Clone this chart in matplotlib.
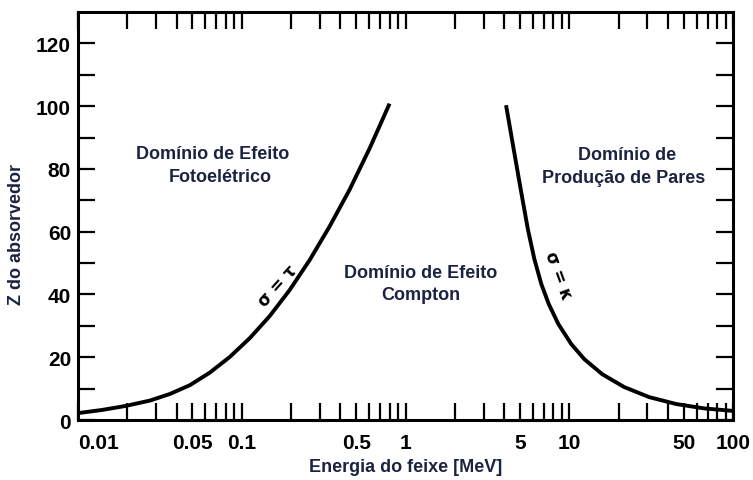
import matplotlib

matplotlib.use("Agg")
import matplotlib.pyplot as plt
from matplotlib.ticker import FixedLocator, NullFormatter

plt.rcParams["font.family"] = ["Liberation Sans", "DejaVu Sans"]

# curve sigma = tau (photoelectric / Compton boundary)
tau_energy = [0.01, 0.0140, 0.0196, 0.0275, 0.0364, 0.0482, 0.0638, 0.0845,
              0.112, 0.148, 0.196, 0.260, 0.344, 0.4555, 0.603, 0.799]
tau_z = [2.2, 3.2, 4.5, 6.2, 8.3, 11.1, 15.1, 20.1, 26.1, 33.1, 41.4, 51.0,
         61.7, 73.4, 86.5, 100.8]

# curve sigma = kappa (Compton / pair production boundary)
kappa_energy = [4.11, 4.575, 5.047, 5.585, 6.118, 6.75, 7.50, 8.57, 10.28,
                12.35, 15.89, 21.64, 30.74, 44.91, 66.56, 100.0]
kappa_z = [100.3, 86.3, 73.6, 60.8, 51.3, 43.3, 36.9, 30.6, 24.2, 19.4,
           14.6, 10.5, 7.3, 5.1, 3.7, 2.9]

x_major = [0.01, 0.05, 0.1, 0.5, 1, 5, 10, 50, 100]
x_labels = ["0.01", "0.05", "0.1", "0.5", "1", "5", "10", "50", "100"]
x_minor = [0.02, 0.03, 0.04, 0.06, 0.07, 0.08, 0.09,
           0.2, 0.3, 0.4, 0.6, 0.7, 0.8, 0.9,
           2, 3, 4, 6, 7, 8, 9,
           20, 30, 40, 60, 70, 80, 90]
y_major = [0, 20, 40, 60, 80, 100, 120]
y_minor = [10, 30, 50, 70, 90, 110]

TXT = "#1c2340"

fig = plt.figure(figsize=(7.53, 4.81), dpi=100)
ax = fig.add_axes([0.1036, 0.1247, 0.8699, 0.8483])

ax.plot(tau_energy, tau_z, color="black", linewidth=2.8,
        solid_capstyle="butt", solid_joinstyle="round")
ax.plot(kappa_energy, kappa_z, color="black", linewidth=2.8,
        solid_capstyle="butt", solid_joinstyle="round")

ax.set_xscale("log")
ax.set_xlim(0.01, 100)
ax.set_ylim(0, 130)

ax.xaxis.set_major_locator(FixedLocator(x_major))
ax.xaxis.set_minor_locator(FixedLocator(x_minor))
ax.xaxis.set_minor_formatter(NullFormatter())
ax.set_xticks(x_major)
ax.set_xticklabels(x_labels)
ax.set_yticks(y_major)
ax.set_yticks(y_minor, minor=True)

for s in ax.spines.values():
    s.set_linewidth(2.2)

ax.tick_params(which="both", direction="in", top=True, right=True,
               width=1.6, color="black")
ax.tick_params(which="major", length=12.5)
ax.tick_params(which="minor", length=12)
ax.tick_params(axis="x", which="major", pad=9, labelsize=15)
ax.tick_params(axis="y", which="major", pad=5, labelsize=15)
for lab in ax.get_xticklabels() + ax.get_yticklabels():
    lab.set_fontweight("bold")

ax.set_xlabel("Energia do feixe [MeV]", fontsize=13, fontweight="bold",
              color=TXT, labelpad=5)
ax.set_ylabel("Z do absorvedor", fontsize=13, fontweight="bold", color=TXT)
ax.yaxis.set_label_coords(-0.081, 0.456)

ax.text(0.0666, 85.0, "Domínio de Efeito", ha="center", va="center",
        fontsize=13, fontweight="bold", color=TXT)
ax.text(0.0734, 77.7, "Fotoelétrico", ha="center", va="center",
        fontsize=13, fontweight="bold", color=TXT)
ax.text(1.235, 47.1, "Domínio de Efeito", ha="center", va="center",
        fontsize=13, fontweight="bold", color=TXT)
ax.text(1.235, 40.1, "Compton", ha="center", va="center",
        fontsize=13, fontweight="bold", color=TXT)
ax.text(22.6, 84.7, "Domínio de", ha="center", va="center",
        fontsize=13, fontweight="bold", color=TXT)
ax.text(21.6, 77.4, "Produção de Pares", ha="center", va="center",
        fontsize=13, fontweight="bold", color=TXT)

ax.text(0.165, 42.8, "σ = τ", ha="center", va="center", rotation=48,
        fontsize=12, fontweight="bold", color="black",
        family=["DejaVu Sans"])
ax.text(8.6, 46.2, "σ = κ", ha="center", va="center", rotation=-70,
        fontsize=12, fontweight="bold", color="black",
        family=["DejaVu Sans"])

# first x label sits to the right of its tick in the original
ax.get_xticklabels()[0].set_horizontalalignment("left")

fig.savefig("out.png", dpi=100)
